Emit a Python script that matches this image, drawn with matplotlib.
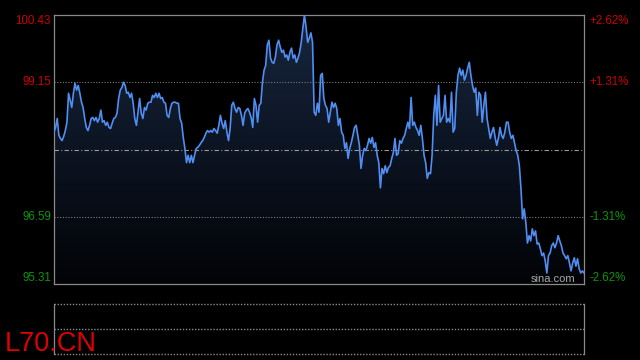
import numpy as np
import matplotlib
matplotlib.use('Agg')
import matplotlib.pyplot as plt
from matplotlib.colors import LinearSegmentedColormap
from matplotlib.patches import Polygon
import matplotlib.transforms as mtransforms

plt.rcParams['font.family'] = ['Liberation Sans', 'DejaVu Sans']

# Données (prix intraday, pas régulier)
prix = [
    # début de séance
    98.20, 98.29, 98.46, 98.14, 98.08, 98.04, 98.12, 98.23, 98.39, 98.94, 98.81, 98.67,
    98.94, 99.13, 99.00, 99.09, 98.94, 98.77, 98.67, 98.46, 98.29, 98.23, 98.33, 98.46,
    98.48, 98.42, 98.48, 98.39, 98.46, 98.62, 98.39, 98.42, 98.33, 98.39, 98.29, 98.27,
    98.37, 98.46, 98.48, 98.56, 98.84, 99.00, 99.05, 99.15, 99.09, 98.94, 98.96, 98.86,
    98.94, 98.75, 98.46, 98.33, 98.58, 98.84, 98.56, 98.46, 98.67, 98.62, 98.75, 98.77,
    98.77, 98.90, 98.86, 98.94, 98.86, 98.94, 98.84, 98.86, 98.77, 98.75, 98.52, 98.48,
    98.65, 98.75, 98.77, 98.77, 98.75, 98.75, 98.46, 98.37, 98.10, 97.89, 97.62,
    # montée vers le plus haut
    97.76, 97.62, 97.76, 97.62, 97.76, 97.89, 97.91, 97.95, 98.00, 98.04, 98.10, 98.18,
    98.23, 98.20, 98.23, 98.20, 98.27, 98.23, 98.18, 98.33, 98.52, 98.37, 98.27, 98.42,
    98.20, 98.04, 98.27, 98.71, 98.77, 98.65, 98.58, 98.67, 98.65, 98.52, 98.33, 98.56,
    98.62, 98.65, 98.58, 98.48, 98.29, 98.84, 98.71, 98.39, 98.71, 98.75, 99.15, 99.38,
    99.47, 99.86, 99.95, 99.61, 99.53, 99.51, 99.63, 99.86, 99.95, 99.82, 99.72, 99.76,
    99.63, 99.67, 99.57, 99.72, 99.80, 99.61, 99.67, 99.53, 99.61, 99.72, 99.91, 100.18,
    100.43, 100.20, 99.91, 99.99, 100.09, 99.91, 98.58, 98.52, 98.75, 98.58,
    # milieu de séance
    99.28, 99.32, 98.84, 98.71, 98.65, 98.39, 98.58, 98.77, 98.67, 98.75, 98.65, 98.33,
    98.46, 98.20, 98.14, 97.89, 98.00, 97.70, 97.89, 98.00, 98.14, 98.29, 98.33, 98.14,
    97.95, 97.51, 97.76, 97.89, 97.85, 97.95, 98.08, 97.99, 98.10, 97.91, 98.00, 97.76,
    97.62, 97.14, 97.51, 97.41, 97.56, 97.43, 97.53, 97.56, 97.70, 97.81, 98.08, 97.76,
    97.79, 98.04, 97.99, 98.08, 98.14, 98.27, 98.39, 98.27, 98.86, 98.33, 98.39, 98.29,
    98.23, 98.14, 98.33, 98.08, 97.76, 97.62, 97.32, 97.43, 97.41, 97.76, 98.52, 98.90,
    98.33, 99.09, 98.39, 98.46, 98.52, 98.90, 98.39, 98.46, 98.39, 98.96, 98.20,
    # fin de séance
    98.27, 98.96, 99.28, 99.42, 99.28, 99.38, 99.19, 99.28, 99.42, 99.53, 99.28, 99.09,
    98.96, 99.04, 98.52, 98.96, 98.90, 98.39, 98.71, 98.96, 98.46, 98.27, 98.08, 98.20,
    98.29, 98.10, 97.95, 98.08, 98.29, 98.14, 98.08, 98.20, 98.39, 98.39, 98.20, 98.08,
    98.14, 97.99, 97.85, 97.76, 97.56, 97.12, 96.55, 96.74, 96.48, 96.09, 96.23, 96.13,
    96.36, 96.23, 96.32, 96.07, 96.09, 95.98, 95.85, 95.90, 95.75, 95.52, 95.85, 95.90,
    96.04, 96.09, 96.00, 96.09, 96.23, 96.13, 96.04, 95.90, 95.85, 95.79, 95.85, 95.71,
    95.56, 95.71, 95.81, 95.65, 95.79, 95.60, 95.52, 95.56, 95.52,
]

cloture_veille = 97.87
niveaux = [100.43, 99.15, 97.87, 96.59, 95.31]
labels_prix = ['100.43', '99.15', '', '96.59', '95.31']
labels_pct = ['+2.62%', '+1.31%', '', '-1.31%', '-2.62%']
symbole = 'L70.CN'

ROUGE = '#cc0000'
VERT = '#0a960a'
GRIS = '#8a8a8a'

W, H = 640, 360
fig = plt.figure(figsize=(6.4, 3.6), dpi=100, facecolor='black')

# Panneau principal
ax = fig.add_axes([54 / W, 1 - 284 / H, 530 / W, 269 / H], facecolor='black')
x = np.arange(len(prix))
ax.set_xlim(0, len(prix) - 1)
ax.set_ylim(niveaux[-1], niveaux[0])

# Remplissage dégradé sous la courbe
cmap = LinearSegmentedColormap.from_list('bleu', ['#020306', '#0c1422', '#18263e'])
grad = np.linspace(0, 1, 256).reshape(-1, 1)
img = ax.imshow(grad, cmap=cmap, origin='lower', aspect='auto',
                extent=[0, len(prix) - 1, niveaux[-1], niveaux[0]], zorder=1)
sommets = [(0, niveaux[-1])] + list(zip(x, prix)) + [(len(prix) - 1, niveaux[-1])]
poly = Polygon(sommets, closed=True, facecolor='none', edgecolor='none')
ax.add_patch(poly)
img.set_clip_path(poly)

ax.plot(x, prix, color='#4f8ef2', lw=1.2, zorder=3)

# Lignes de repère
for v in (niveaux[1], niveaux[3]):
    ax.axhline(v, color='#7a7a7a', lw=0.8, ls=(0, (1, 1.5)), zorder=2)
ax.axhline(cloture_veille, color='#9a9a9a', lw=0.8, ls=(0, (4, 2, 1, 2)), zorder=2)

for s in ax.spines.values():
    s.set_color(GRIS)
    s.set_linewidth(0.9)
ax.set_xticks([])
ax.set_yticks([])

trans_g = mtransforms.blended_transform_factory(fig.transFigure, ax.transData)
for i, (v, lp, lc) in enumerate(zip(niveaux, labels_prix, labels_pct)):
    if not lp:
        continue
    couleur = ROUGE if v > cloture_veille else VERT
    va = 'center'
    if i == 0:
        va = 'top'
    elif i == len(niveaux) - 1:
        va = 'bottom'
    ax.text(51 / W, v, lp, transform=trans_g, ha='right', va=va, color=couleur, fontsize=8.3)
    ax.text(589 / W, v, lc, transform=trans_g, ha='left', va=va, color=couleur, fontsize=8.3)

fig.text(575 / W, 1 - 284 / H, 'sina.com', ha='right', va='bottom', color='#a8a8a8', fontsize=8)

# Panneau du bas (volume, vide)
ax2 = fig.add_axes([54 / W, 1 - 354 / H, 530 / W, 50 / H], facecolor='black')
ax2.set_xlim(0, 1)
ax2.set_ylim(0, 2)
ax2.set_xticks([])
ax2.set_yticks([])
for cote in ('left', 'right'):
    ax2.spines[cote].set_color(GRIS)
    ax2.spines[cote].set_linewidth(0.9)
for cote in ('top', 'bottom'):
    ax2.spines[cote].set_visible(False)
for v in (0, 1, 2):
    ax2.axhline(v, color='#8a8a8a', lw=1.0, ls=(0, (1, 1.2)), clip_on=False)

fig.text(5 / W, 1 - 351 / H, symbole, ha='left', va='baseline', color='#e00000', fontsize=19.5)

plt.savefig('out.png', dpi=100, facecolor='black')
plt.close()
